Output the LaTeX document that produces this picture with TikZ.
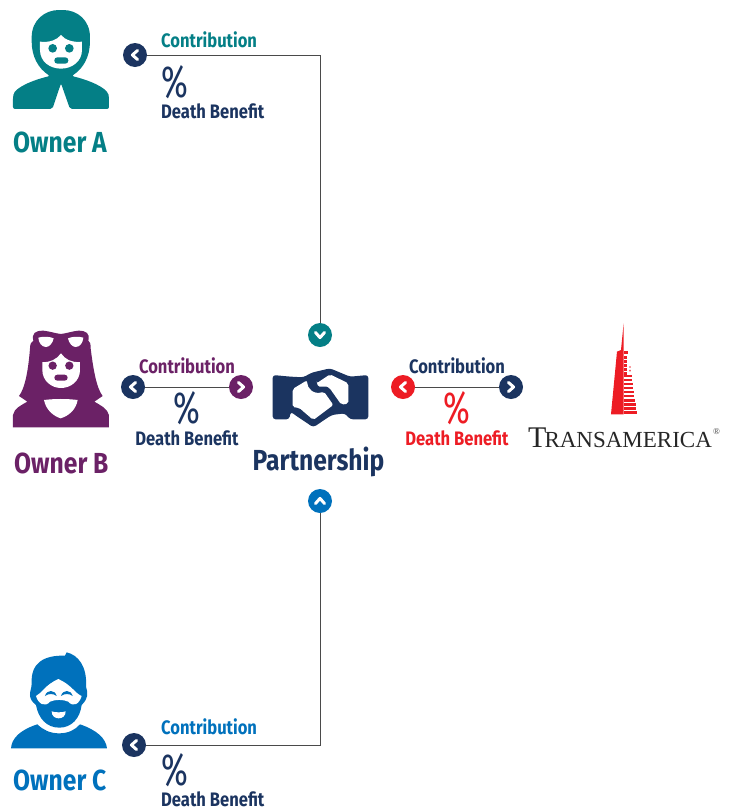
\documentclass[tikz,border=0pt]{standalone}
\usepackage{fontspec}
\setmainfont{Fira Sans}
\newfontfamily\lab[FakeStretch=0.85]{Fira Sans}
\newfontfamily\pct[FakeStretch=0.72]{Fira Sans}
\newfontfamily\tafont{Liberation Serif}
\definecolor{teal}{HTML}{047F86}
\definecolor{purp}{HTML}{6B2166}
\definecolor{blu}{HTML}{0071BC}
\definecolor{navy}{HTML}{1B3460}
\definecolor{rd}{HTML}{ED1C24}
\definecolor{ln}{HTML}{4A4A4A}
\tikzset{
  x=1pt,y=-1pt,
  small/.style={inner sep=0pt,font=\lab\bfseries\fontsize{19.5}{20}\selectfont},
  big/.style={inner sep=0pt,font=\lab\bfseries\fontsize{29}{30}\selectfont},
  pc/.style={inner sep=0pt,font=\pct\fontsize{45}{46}\selectfont},
  bullet/.style={circle,minimum size=24pt,inner sep=0pt,fill=#1},
  wire/.style={draw=ln,line width=0.9pt},
  chev/.style={draw=white,line width=3pt,line cap=round,line join=round}
}
\newcommand{\bul}[5]{% name,x,y,colour,angle
  \draw[chev,shift={(#2,#3)},rotate=#5] (2.6,-4.6) -- (-2.6,0) -- (2.6,4.6);
}
\begin{document}
\begin{tikzpicture}
\useasboundingbox (0,0) rectangle (732,809);
\coordinate (topc) at (320,55);
\coordinate (botc) at (320,745);
\node[bullet=navy] (a1) at (135,55) {};
\node[bullet=teal] (p1) at (320,335) {};
\node[bullet=blu] (p2) at (320,501) {};
\node[bullet=navy] (c1) at (134,745) {};
\node[bullet=navy] (b1) at (133,387) {};
\node[bullet=purp] (b2) at (241,387) {};
\node[bullet=rd] (t1) at (403,387) {};
\node[bullet=navy] (t2) at (511,387) {};
\draw[wire] (a1.east) -- (topc) -- (p1.north);
\draw[wire] (c1.east) -- (botc) -- (p2.south);
\draw[wire] (b1) -- (b2);
\draw[wire] (t1) -- (t2);
\bul{a1}{135}{55}{navy}{0}
\bul{p1}{320}{335}{teal}{90}
\bul{p2}{320}{501}{blu}{-90}
\bul{c1}{134}{745}{navy}{0}
\bul{b1}{133}{387}{navy}{0}
\bul{b2}{241}{387}{purp}{180}
\bul{t1}{403}{387}{rd}{0}
\bul{t2}{511}{387}{navy}{180}
% group A
\node[small,text=teal,anchor=base west] (ca) at (161,47) {Contribution};
\node[pc,text=navy,anchor=base west] (pa) at (161,97) {\%};
\node[small,text=navy,anchor=base west] (da) at (161,118) {Death Benefit};
\node[big,text=teal,anchor=base west] (oa) at (13,152) {Owner A};
% group B
\node[small,text=purp,anchor=base] (cb) at (187,373) {Contribution};
\node[pc,text=navy,anchor=base] (pb) at (187,423) {\%};
\node[small,text=navy,anchor=base] (db) at (187,445) {Death Benefit};
\node[big,text=purp,anchor=base west] (ob) at (14,473) {Owner B};
% group T
\node[small,text=navy,anchor=base] (ct) at (457,373) {Contribution};
\node[pc,text=rd,anchor=base] (pt) at (457,423) {\%};
\node[small,text=rd,anchor=base] (dt) at (457,445) {Death Benefit};
\node[big,text=navy,anchor=base] (ps) at (318.5,470) {Partnership};
% group C
\node[small,text=blu,anchor=base west] (cc) at (161,734) {Contribution};
\node[pc,text=navy,anchor=base west] (pc1) at (161,785) {\%};
\node[small,text=navy,anchor=base west] (dc) at (161,806) {Death Benefit};
\node[big,text=blu,anchor=base west] (oc) at (13,790) {Owner C};
% Owner A icon
\begin{scope}[x=0.3333pt,y=-0.3333pt]
\fill[teal,rounded corners=2pt] (39,327) -- (39,290) .. controls (45,262) and (100,240) .. (150,228)
  .. controls (115,205) and (95,170) .. (95,118) .. controls (95,60) and (135,30) .. (183,30)
  .. controls (232,30) and (270,60) .. (270,118) .. controls (270,170) and (250,205) .. (215,228)
  .. controls (265,240) and (320,262) .. (327,290) -- (327,327) -- (210,327) -- (183,250) -- (157,327) -- cycle;
\fill[white] (120,125) .. controls (150,128) and (170,120) .. (183,105) .. controls (195,120) and (220,128) .. (246,125)
  -- (246,150) .. controls (246,185) and (215,206) .. (183,206) .. controls (150,206) and (120,185) .. (120,150) -- cycle;
\fill[teal] (158,145) circle (13) (208,145) circle (13);
\fill[teal,rounded corners=3pt] (163,172) rectangle (205,191);
\end{scope}
% Owner B icon
\begin{scope}[shift={(0,320)},x=0.3333pt,y=-0.3333pt]
\fill[purp] (39,322) -- (39,285) .. controls (42,265) and (65,255) .. (82,245) -- (57,228)
  .. controls (75,205) and (85,150) .. (90,85) .. controls (90,70) and (95,65) .. (100,62) .. controls (95,40) and (105,32) .. (130,32)
  .. controls (150,34) and (165,40) .. (183,42) .. controls (200,40) and (215,34) .. (235,32)
  .. controls (260,32) and (270,40) .. (265,62) .. controls (270,65) and (272,70) .. (272,85) .. controls (280,150) and (290,205) .. (308,228)
  -- (283,245) .. controls (300,255) and (322,265) .. (327,285) -- (327,322) -- cycle;
\fill[white] (115,53) .. controls (130,48) and (150,50) .. (161,55) .. controls (158,70) and (148,81) .. (138,81) .. controls (125,81) and (116,68) .. (115,53) -- cycle;
\fill[white] (250,53) .. controls (235,48) and (215,50) .. (204,55) .. controls (207,70) and (217,81) .. (227,81) .. controls (240,81) and (249,68) .. (250,53) -- cycle;
\fill[white] (127,126) .. controls (150,128) and (170,118) .. (183,100) .. controls (195,118) and (215,128) .. (240,126)
  -- (240,150) .. controls (240,183) and (212,204) .. (183,204) .. controls (155,204) and (127,183) .. (127,150) -- cycle;
\fill[purp] (158,137) circle (12.5) (208,137) circle (12.5);
\fill[purp,rounded corners=3pt] (163,164) rectangle (203,182);
\fill[white] (132,240) .. controls (165,236) and (200,236) .. (233,240) .. controls (228,270) and (205,288) .. (182,295) .. controls (160,288) and (138,270) .. (132,240) -- cycle;
\end{scope}
% Owner C icon
\begin{scope}[shift={(0,640)},x=0.3333pt,y=-0.3333pt]
\fill[blu] (33,325) .. controls (35,295) and (60,270) .. (112,253) .. controls (130,270) and (150,280) .. (177,280)
  .. controls (205,280) and (225,270) .. (240,253) .. controls (290,270) and (318,295) .. (321,325) -- cycle;
\fill[blu] (90,165) .. controls (90,150) and (95,145) .. (95,130) .. controls (92,70) and (130,45) .. (195,47)
  -- (200,37) .. controls (235,45) and (262,80) .. (258,140) .. controls (265,160) and (265,175) .. (245,195)
  .. controls (240,235) and (215,263) .. (178,263) .. controls (140,263) and (115,235) .. (108,195) .. controls (95,185) and (90,175) .. (90,165) -- cycle;
\fill[white] (108,168) .. controls (125,160) and (135,135) .. (175,117) .. controls (215,135) and (225,160) .. (245,168)
  .. controls (238,192) and (220,203) .. (205,185) .. controls (190,178) and (165,178) .. (150,185) .. controls (135,203) and (115,192) .. (108,168) -- cycle;
\fill[blu] (135,168) .. controls (140,148) and (165,148) .. (170,168) .. controls (160,160) and (145,160) .. (135,168) -- cycle;
\fill[blu] (183,168) .. controls (188,148) and (213,148) .. (218,168) .. controls (208,160) and (193,160) .. (183,168) -- cycle;
\fill[white] (155,214) .. controls (165,218) and (187,218) .. (197,214) .. controls (197,228) and (187,235) .. (176,235) .. controls (165,235) and (155,228) .. (155,214) -- cycle;
\end{scope}
% Handshake
\begin{scope}[shift={(250,320)},x=0.3333pt,y=-0.3333pt]
\fill[navy,rounded corners=3pt] (68,165) -- (122,170) -- (160,172) -- (185,158) -- (240,145) -- (300,170) -- (355,165) -- (355,298) -- (300,298)
  -- (285,280) -- (245,285) -- (190,322) -- (135,285) -- (122,275) -- (118,298) -- (68,298) -- cycle;
\fill[white,rounded corners=2pt] (128,207) -- (171,181) .. controls (172,205) and (190,225) .. (222,215) -- (250,255) -- (190,300) -- (147,263) -- (128,262) -- cycle;
\fill[white,rounded corners=2pt] (200,190) -- (240,163) -- (295,190) -- (295,251) -- (274,254) -- (238,203) .. controls (225,197) and (208,205) .. (200,190) -- cycle;
\end{scope}
% Tower
\begin{scope}[shift={(520,315)},x=0.3333pt,y=-0.3333pt]
\fill[rd] (311,25) -- (303,105) -- (291,110) -- (273,298) -- (311,298) -- cycle;
\fill[rd] (311,108) rectangle (325,118);
\foreach \y in {124,136,148,160,172}{\fill[rd] (311,\y) rectangle (321,\y+7);}
\fill[rd] (328,154) rectangle (332,158) (328,165) rectangle (332,169);
\foreach \y/\w in {180/335,192/336,204/338,216/339,228/341,240/343,253/345,265/347,277/348,289/350}{\fill[rd] (311,\y) rectangle (\w,\y+7);}
\end{scope}
% Logo text
\node[inner sep=0pt,anchor=base west,text=black!85,font=\tafont] (ta) at (528,447)
  {\fontsize{30}{30}\selectfont T\kern-2pt\fontsize{23}{24}\selectfont RANSAMERICA};
\node[inner sep=0pt,text=black!75,font=\tafont\fontsize{9}{9}\selectfont] (reg) at (716.5,432) {\textregistered};
\end{tikzpicture}
\end{document}
